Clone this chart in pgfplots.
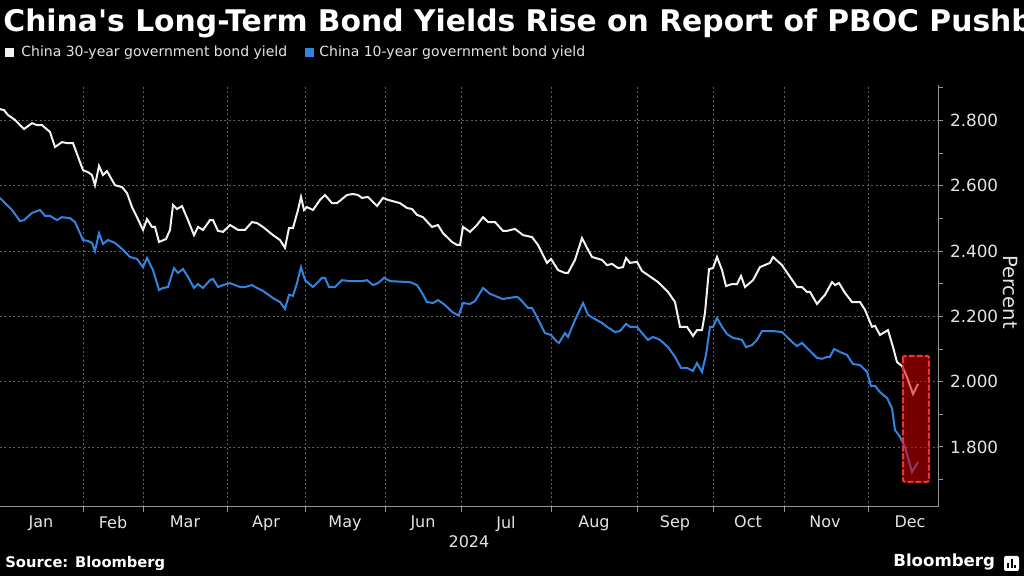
\documentclass[border=0pt]{standalone}
\usepackage{fontspec}
\setmainfont{DejaVu Sans}
\newfontfamily\titlefont{DejaVu Sans}
\usepackage{pgfplots}
\pgfplotsset{compat=1.18}

\definecolor{wline}{RGB}{242,242,242}
\definecolor{bline}{RGB}{50,132,224}
\definecolor{axgray}{RGB}{150,150,150}
\definecolor{gridgray}{RGB}{95,95,95}
\definecolor{txt}{RGB}{228,228,228}
\definecolor{boxred}{RGB}{215,0,0}
\definecolor{boxedge}{RGB}{240,50,50}

\begin{document}
\begin{tikzpicture}[x=0.5pt,y=0.5pt]
\path[use as bounding box] (0,0) rectangle (1024,576);
\fill[black] (0,0) rectangle (1024,576);
\clip (0,0) rectangle (1024,576);

% title (cut off by the right edge, as in the original)
\node[anchor=base west, inner sep=0, text=white,
      font=\titlefont\fontsize{14.9}{17}\selectfont\bfseries] at (3,544)
  {China's Long-Term Bond Yields Rise on Report of PBOC Pushback};

% legend
\fill[wline] (5,519) rectangle (14,528);
\node[anchor=base west, inner sep=0, text=txt, font=\fontsize{7}{8}\selectfont] at (21,519)
  {China 30-year government bond yield};
\fill[bline] (305,519) rectangle (314,528);
\node[anchor=base west, inner sep=0, text=txt, font=\fontsize{7}{8}\selectfont] at (319,519)
  {China 10-year government bond yield};

\begin{axis}[
  at={(0pt,34.5pt)}, anchor=south west,
  scale only axis, width=469pt, height=211pt,
  xmin=0, xmax=938, ymin=1.616, ymax=2.909,
  axis x line*=bottom, axis y line*=right,
  axis line style={axgray, line width=0.5pt},
  tick align=outside, major tick length=2.5pt, minor tick length=2.5pt,
  tick style={axgray, line width=0.5pt},
  xtick={83,143,227,305,385,461,551,637,713,784,868},
  xticklabels={},
  extra x ticks={41,113,185,266,345,423,506,594,675,748,825,910},
  extra x tick labels={Jan,Feb,Mar,Apr,May,Jun,Jul,Aug,Sep,Oct,Nov,Dec},
  extra x tick style={major tick length=0pt, grid=none},
  xticklabel style={text=txt, font=\fontsize{8}{9}\selectfont, yshift=-1pt},
  xlabel={2024},
  xlabel style={text=txt, font=\fontsize{8}{9}\selectfont, yshift=7.5pt},
  ytick={1.8,2.0,2.2,2.4,2.6,2.8},
  minor ytick={1.7,1.9,2.1,2.3,2.5,2.7,2.9},
  yticklabel style={text=txt, font=\fontsize{8.4}{9}\selectfont,
    /pgf/number format/.cd, fixed, fixed zerofill, precision=3, assume math mode=true},
  grid=major,
  major grid style={gridgray, line width=0.4pt, dash pattern=on 1pt off 1.2pt},
  clip=true,
]
\addplot[wline, line width=1pt] coordinates {
(0,2.835)(4,2.832)(8,2.817)(15,2.802)(24,2.774)(32,2.792)(37,2.786)(42,2.786)(50,2.765)(55,2.719)
(62,2.734)(67,2.731)(73,2.731)(83,2.648)(88,2.642)(92,2.633)(95,2.602)(99,2.661)(103,2.633)(107,2.645)
(115,2.602)(122,2.596)(127,2.578)(132,2.535)(137,2.504)(143,2.465)(147,2.498)(152,2.474)(155,2.474)(159,2.428)
(166,2.437)(170,2.465)(173,2.541)(177,2.529)(182,2.538)(188,2.495)(194,2.449)(198,2.474)(203,2.465)(210,2.495)
(213,2.495)(218,2.462)(223,2.459)(230,2.480)(238,2.465)(245,2.465)(252,2.489)(257,2.486)(263,2.474)(273,2.449)
(280,2.434)(285,2.410)(289,2.471)(293,2.471)(298,2.526)(301,2.566)(304,2.526)(307,2.535)(313,2.526)(320,2.557)
(325,2.572)(332,2.547)(337,2.547)(347,2.572)(353,2.575)(358,2.572)(362,2.563)(368,2.566)(377,2.538)(383,2.563)
(388,2.557)(400,2.547)(407,2.532)(412,2.529)(417,2.511)(423,2.504)(432,2.474)(438,2.480)(443,2.455)(452,2.428)
(457,2.419)(460,2.419)(463,2.474)(470,2.459)(477,2.480)(483,2.504)(488,2.489)(495,2.489)(503,2.462)(507,2.462)
(515,2.468)(523,2.449)(532,2.443)(538,2.419)(543,2.388)(547,2.364)(551,2.376)(558,2.342)(565,2.333)(568,2.333)
(575,2.373)(582,2.440)(587,2.410)(592,2.382)(602,2.373)(607,2.357)(612,2.361)(618,2.348)(623,2.351)(626,2.379)
(630,2.364)(637,2.367)(642,2.339)(652,2.318)(658,2.305)(668,2.275)(675,2.244)(680,2.168)(687,2.168)(693,2.140)
(697,2.158)(702,2.158)(705,2.211)(709,2.345)(713,2.348)(717,2.382)(722,2.342)(726,2.293)(732,2.299)(737,2.299)
(741,2.324)(745,2.290)(753,2.311)(760,2.351)(770,2.364)(773,2.382)(782,2.357)(790,2.321)(797,2.290)(802,2.290)
(807,2.275)(810,2.275)(817,2.238)(822,2.256)(825,2.266)(832,2.305)(835,2.296)(839,2.302)(845,2.272)(852,2.244)
(860,2.244)(865,2.220)(872,2.168)(875,2.171)(880,2.143)(888,2.158)(893,2.106)(897,2.060)(902,2.048)(907,2.014)
(913,1.962)(918,1.993)
};
\addplot[bline, line width=1pt] coordinates {
(0,2.563)(5,2.547)(12,2.526)(20,2.492)(24,2.495)(32,2.517)(40,2.526)(45,2.508)(50,2.508)(57,2.495)
(62,2.504)(70,2.501)(75,2.489)(80,2.455)(83,2.434)(88,2.431)(92,2.425)(95,2.400)(99,2.455)(103,2.422)
(108,2.434)(115,2.425)(123,2.404)(130,2.382)(137,2.376)(143,2.351)(147,2.379)(153,2.342)(159,2.281)(163,2.287)
(168,2.290)(174,2.348)(178,2.333)(183,2.345)(188,2.321)(194,2.287)(198,2.299)(203,2.287)(210,2.311)(213,2.315)
(218,2.290)(223,2.296)(230,2.302)(240,2.290)(245,2.290)(252,2.296)(257,2.287)(263,2.278)(273,2.256)(280,2.244)
(285,2.223)(289,2.266)(293,2.263)(297,2.302)(301,2.351)(305,2.311)(313,2.290)(322,2.318)(325,2.318)(329,2.290)
(335,2.290)(342,2.311)(350,2.308)(362,2.308)(367,2.311)(373,2.296)(378,2.302)(384,2.318)(390,2.308)(410,2.305)
(417,2.296)(422,2.272)(427,2.244)(433,2.241)(438,2.250)(445,2.235)(452,2.214)(457,2.205)(459,2.205)(463,2.241)
(470,2.238)(475,2.247)(483,2.287)(490,2.269)(503,2.253)(508,2.256)(517,2.260)(520,2.253)(528,2.226)(532,2.226)
(537,2.198)(545,2.149)(551,2.143)(557,2.122)(559,2.119)(565,2.149)(568,2.137)(575,2.189)(583,2.241)(588,2.205)
(593,2.195)(602,2.180)(607,2.168)(615,2.152)(620,2.155)(626,2.177)(630,2.168)(637,2.168)(642,2.149)(648,2.128)
(653,2.137)(660,2.128)(668,2.106)(675,2.076)(681,2.042)(687,2.042)(693,2.033)(697,2.057)(702,2.030)(706,2.082)
(710,2.168)(713,2.168)(717,2.195)(722,2.168)(727,2.146)(733,2.134)(738,2.131)(742,2.128)(746,2.106)(752,2.112)
(757,2.128)(762,2.155)(767,2.155)(773,2.155)(782,2.152)(787,2.137)(793,2.119)(797,2.109)(802,2.119)(808,2.100)
(817,2.073)(822,2.070)(827,2.076)(830,2.076)(834,2.100)(840,2.091)(847,2.082)(853,2.054)(860,2.051)(867,2.030)
(871,1.987)(875,1.987)(880,1.968)(887,1.950)(892,1.919)(895,1.852)(900,1.831)(905,1.800)(912,1.723)(918,1.754)
};
% highlighted box around the latest move
\draw[boxedge, line width=1.1pt, dash pattern=on 2.4pt off 1.6pt, line cap=round,
      fill=boxred, fill opacity=0.55, rounded corners=1pt]
  (axis cs:903,2.079) rectangle (axis cs:929,1.693);
\end{axis}

\node[rotate=-90, inner sep=0, text=txt, font=\fontsize{9.8}{11}\selectfont] at (1010,284) {Percent};

% footer
\node[anchor=base west, inner sep=0, text=white, font=\fontsize{7.35}{9}\selectfont\bfseries] at (5,8)
  {Source: Bloomberg};
\node[anchor=base west, inner sep=0, text=white, font=\fontsize{8.3}{10}\selectfont\bfseries] at (893,9)
  {Bloomberg};
\fill[white, rounded corners=1pt] (1004,5) rectangle (1019,20);
\fill[black] (1007,8) rectangle (1009,13);
\fill[black] (1010.5,8) rectangle (1012.5,17);
\fill[black] (1014,8) rectangle (1016,11);
\end{tikzpicture}
\end{document}
